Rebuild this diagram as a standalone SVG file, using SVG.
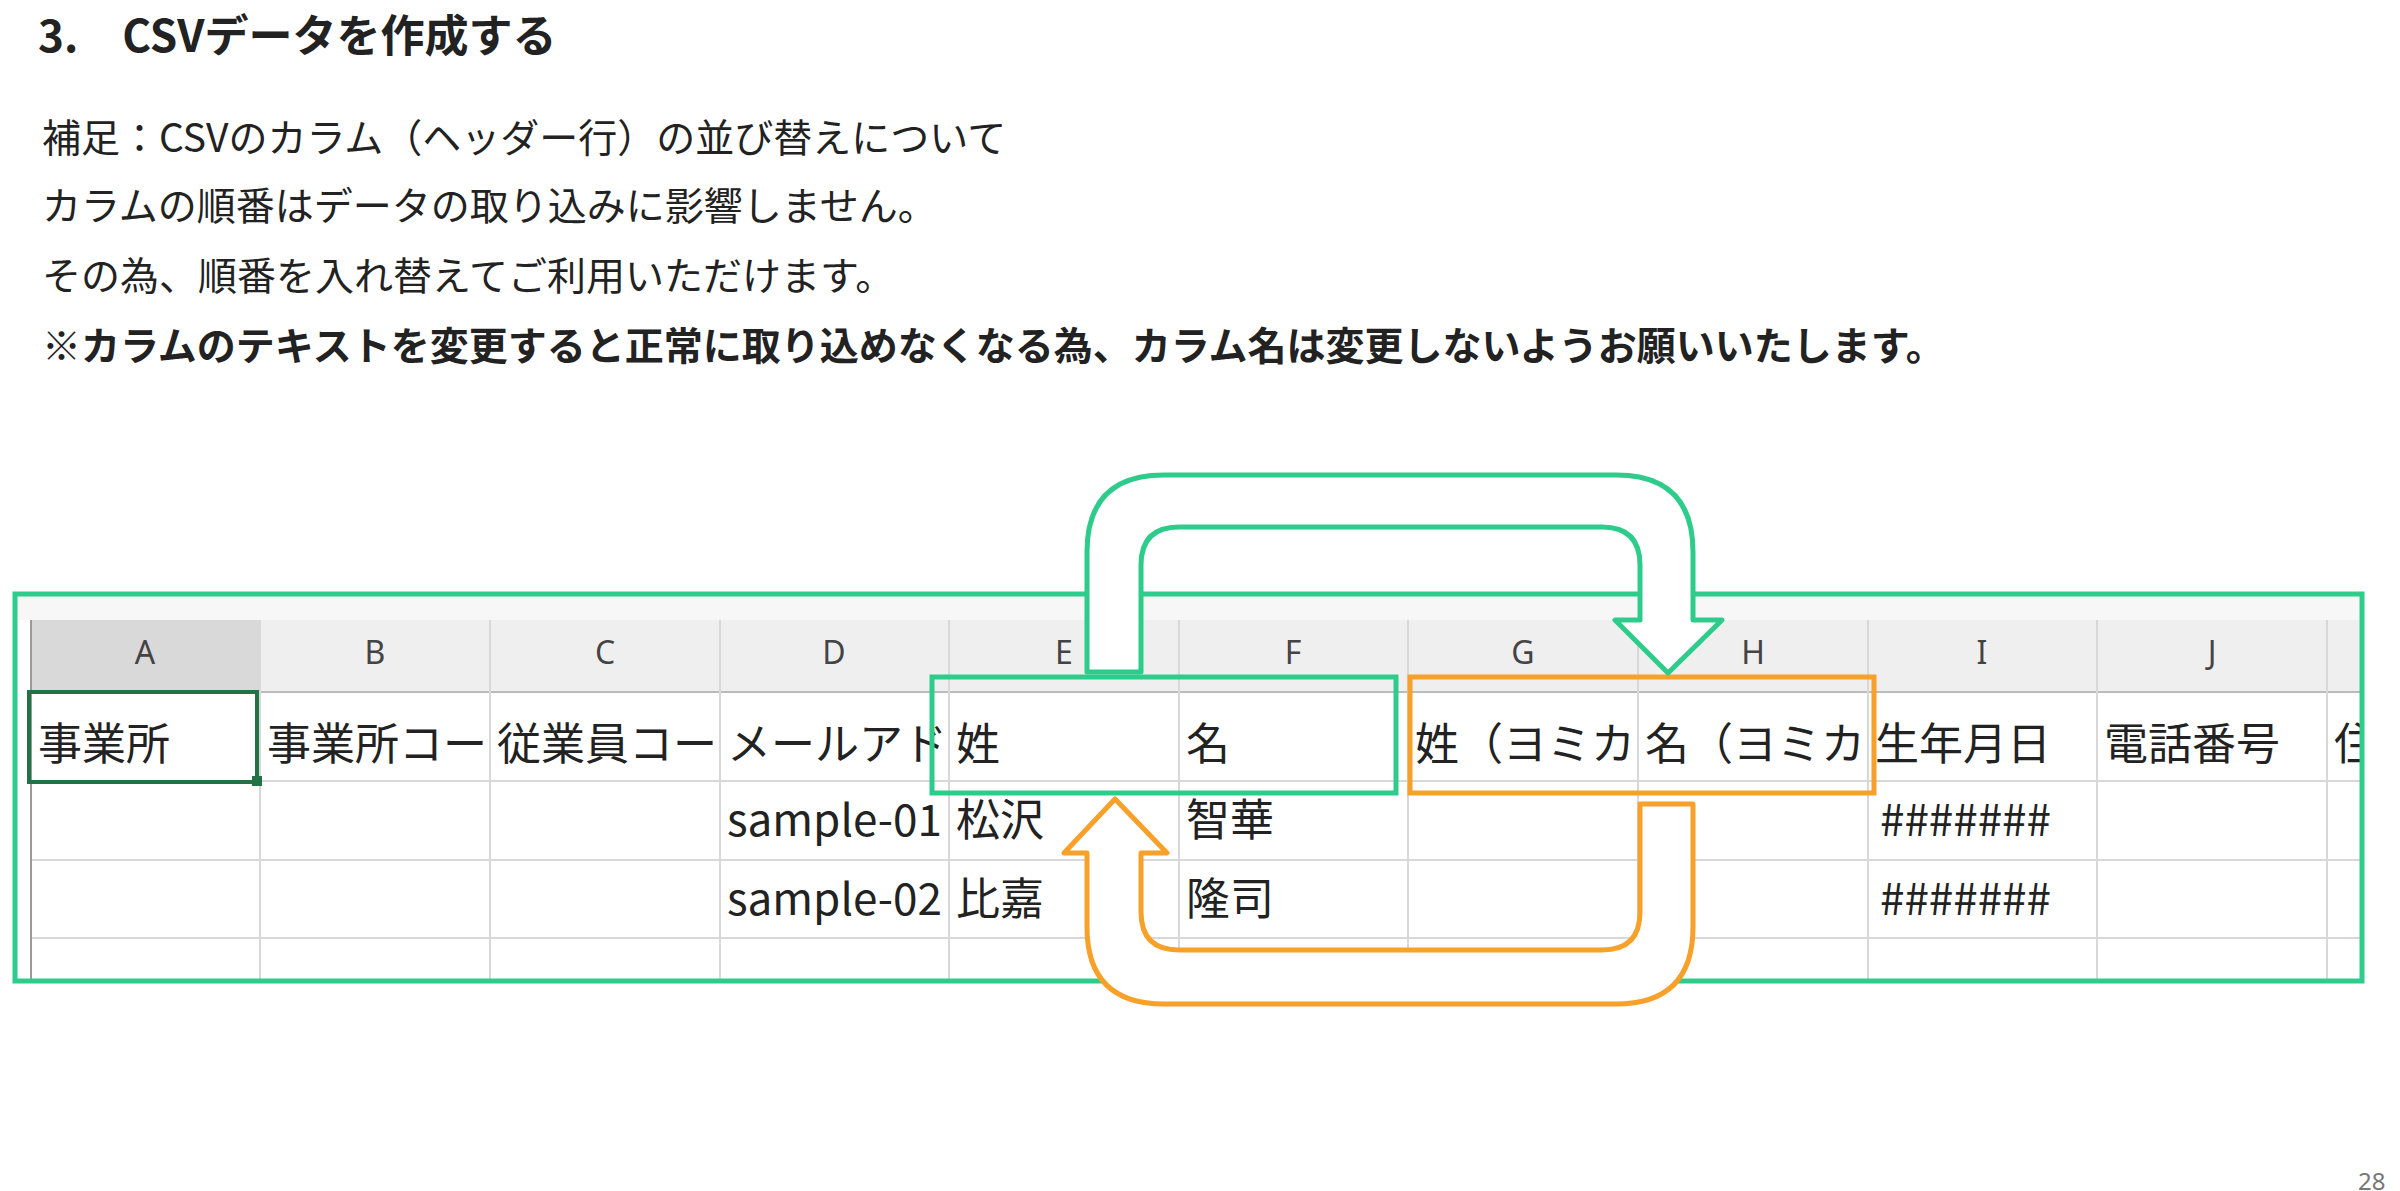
<svg xmlns="http://www.w3.org/2000/svg" width="2400" height="1191" viewBox="0 0 2400 1191">
<style>
.t{font-family:"Noto Sans CJK JP","Noto Sans",sans-serif;fill:#222}
.h{font-family:"Noto Sans","Noto Sans CJK JP",sans-serif;font-size:32px;fill:#444;text-anchor:middle}
.c{font-family:"Noto Sans CJK JP","Noto Sans",sans-serif;font-size:44px;fill:#222}
.g{stroke:#d8d8d8;stroke-width:2}
</style>
<defs>
<clipPath id="cB"><rect x="260" y="692" width="229" height="250"/></clipPath>
<clipPath id="cC"><rect x="490" y="692" width="229" height="250"/></clipPath>
<clipPath id="cD"><rect x="720" y="692" width="229" height="250"/></clipPath>
<clipPath id="cG"><rect x="1408" y="692" width="229" height="250"/></clipPath>
<clipPath id="cH"><rect x="1638" y="692" width="229" height="250"/></clipPath>
<clipPath id="cK"><rect x="2327" y="692" width="33" height="250"/></clipPath>
</defs>
<rect width="2400" height="1191" fill="#fff"/>
<g id="title">
<text class="t" x="38" y="52" font-size="44" font-weight="bold">3.　CSVデータを作成する</text>
<text class="t" x="42" y="152" font-size="39">補足：CSVのカラム（ヘッダー行）の並び替えについて</text>
<text class="t" x="42" y="220" font-size="39">カラムの順番はデータの取り込みに影響しません。</text>
<text class="t" x="42" y="290" font-size="39">その為、順番を入れ替えてご利用いただけます。</text>
<text class="t" x="42" y="360" font-size="39" font-weight="bold">※カラムのテキストを変更すると正常に取り込めなくなる為、カラム名は変更しないようお願いいたします。</text>
<text x="2358" y="1190" font-family="Noto Sans,sans-serif" font-size="24" fill="#777">28</text>
</g>
<g id="sheet">
<rect x="15" y="594" width="2347" height="387" fill="#fff"/>
<rect x="15" y="594" width="2347" height="26" fill="#f7f7f7"/>
<rect x="31" y="620" width="2331" height="72" fill="#efefef"/>
<rect x="31" y="620" width="229" height="72" fill="#d9d9d9"/>
<g class="g">
<line x1="31" y1="692" x2="2362" y2="692" stroke="#bbb"/>
<line x1="31" y1="781" x2="2362" y2="781"/>
<line x1="31" y1="860" x2="2362" y2="860"/>
<line x1="31" y1="938" x2="2362" y2="938"/>
<line x1="31" y1="620" x2="31" y2="981" stroke="#999"/>
<line x1="260" y1="620" x2="260" y2="981"/>
<line x1="490" y1="620" x2="490" y2="981"/>
<line x1="720" y1="620" x2="720" y2="981"/>
<line x1="949" y1="620" x2="949" y2="981"/>
<line x1="1179" y1="620" x2="1179" y2="981"/>
<line x1="1408" y1="620" x2="1408" y2="981"/>
<line x1="1638" y1="620" x2="1638" y2="981"/>
<line x1="1868" y1="620" x2="1868" y2="981"/>
<line x1="2097" y1="620" x2="2097" y2="981"/>
<line x1="2327" y1="620" x2="2327" y2="981"/>
</g>
<text class="h" x="145" y="664" fill="#217346">A</text>
<text class="h" x="375" y="664">B</text>
<text class="h" x="605" y="664">C</text>
<text class="h" x="834" y="664">D</text>
<text class="h" x="1064" y="664">E</text>
<text class="h" x="1293" y="664">F</text>
<text class="h" x="1523" y="664">G</text>
<text class="h" x="1753" y="664">H</text>
<text class="h" x="1982" y="664">I</text>
<text class="h" x="2212" y="664">J</text>
<text class="c" x="38" y="760">事業所</text>
<text class="c" x="267" y="760" clip-path="url(#cB)">事業所コー</text>
<text class="c" x="497" y="760" clip-path="url(#cC)">従業員コー</text>
<text class="c" x="727" y="760" clip-path="url(#cD)">メールアド</text>
<text class="c" x="956" y="760">姓</text>
<text class="c" x="1186" y="760">名</text>
<text class="c" x="1415" y="760" clip-path="url(#cG)">姓（ヨミカ</text>
<text class="c" x="1645" y="760" clip-path="url(#cH)">名（ヨミカ</text>
<text class="c" x="1875" y="760">生年月日</text>
<text class="c" x="2104" y="760">電話番号</text>
<text class="c" x="2334" y="760" clip-path="url(#cK)">住</text>
<text class="c" x="727" y="836" clip-path="url(#cD)">sample-01</text>
<text class="c" x="956" y="836">松沢</text>
<text class="c" x="1186" y="836">智華</text>
<text class="c" x="1880" y="836" font-family="Liberation Mono,monospace">#######</text>
<text class="c" x="727" y="915" clip-path="url(#cD)">sample-02</text>
<text class="c" x="956" y="915">比嘉</text>
<text class="c" x="1186" y="915">隆司</text>
<text class="c" x="1880" y="915" font-family="Liberation Mono,monospace">#######</text>
<rect x="29" y="692" width="228" height="90" fill="none" stroke="#217346" stroke-width="4"/>
<rect x="252" y="776" width="10" height="10" fill="#217346"/>
<rect x="15" y="594" width="2347" height="387" fill="none" stroke="#2ecc8a" stroke-width="5"/>
</g>
<g id="boxes">
<rect x="932" y="677" width="464" height="116" fill="none" stroke="#2ecc8a" stroke-width="5"/>
<rect x="1410" y="677" width="464" height="116" fill="none" stroke="#f7a02a" stroke-width="5"/>
</g>
<g id="connectors" stroke-width="5" stroke-linejoin="round">
<path d="M1087 672 V552 Q1087 475 1164 475 H1616 Q1693 475 1693 552 V620 H1722 L1668 673 L1615 620 H1640 V565 Q1640 527 1602 527 H1179 Q1141 527 1141 565 V672 Z" fill="#fff" stroke="#2ecc8a"/>
<path d="M1693 804 V927 Q1693 1004 1616 1004 H1164 Q1087 1004 1087 927 V853 H1064 L1115 799 L1167 853 H1141 V912 Q1141 950 1179 950 H1602 Q1640 950 1640 912 V804 Z" fill="#fff" stroke="#f7a02a"/>
</g>
</svg>
